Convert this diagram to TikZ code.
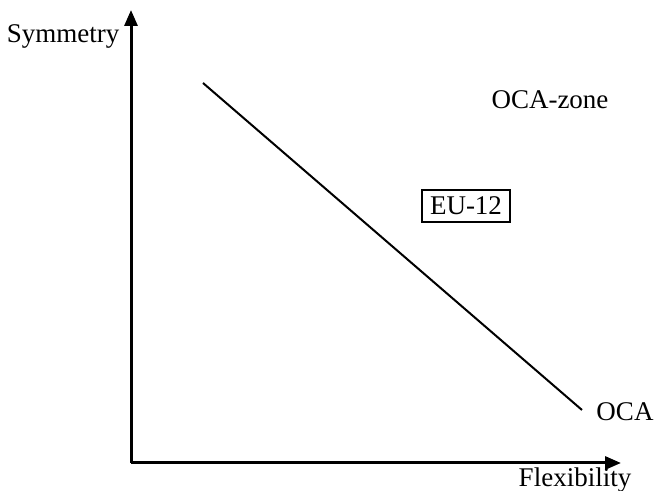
\documentclass[tikz,border=0pt]{standalone}
\usepackage{fontspec}
\setmainfont{Liberation Serif}
\usetikzlibrary{arrows.meta}
\begin{document}
\begin{tikzpicture}[x=0.5pt,y=0.5pt,font=\fontsize{13.5}{16}\selectfont]
  \useasboundingbox (0,0) rectangle (655,491);
  \coordinate (origin) at (131,28);
  \coordinate (ytip) at (131,481);
  \coordinate (xtip) at (621,28);
  \coordinate (linestart) at (203,408);
  \coordinate (lineend) at (582,81);
  \draw[line width=1.5pt,-{Triangle[length=8pt,width=6.5pt]}] (origin) -- (ytip);
  \draw[line width=1.5pt,-{Triangle[length=8pt,width=6.5pt]}] (origin) -- (xtip);
  \draw[line width=1pt] (linestart) -- (lineend);
  \node (ylabel) at (63,455) {Symmetry};
  \node (xlabel) at (575,11) {Flexibility};
  \node (zone) at (550,391) {OCA-zone};
  \node[draw,line width=0.9pt,inner xsep=4pt,inner ysep=3.5pt] (eu) at (466,285) {EU-12};
  \node (oca) at (625,79) {OCA};
\end{tikzpicture}
\end{document}
